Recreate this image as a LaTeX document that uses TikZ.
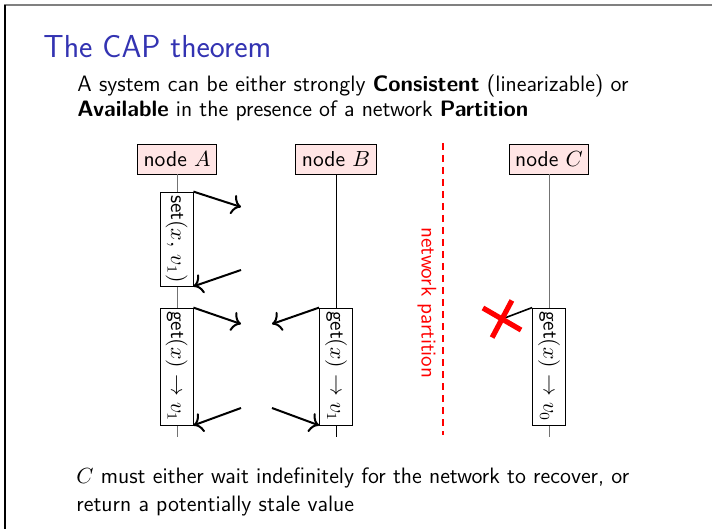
\documentclass[tikz,border=0pt]{standalone}
\usepackage{amsmath,amssymb}
\usetikzlibrary{calc,arrows.meta}
\definecolor{slideblue}{rgb}{0.2,0.2,0.7}
\begin{document}
\begin{tikzpicture}[x=0.5pt,y=-0.5pt]
		\tikzset{>={To[length=4.5pt,width=10pt]},
			slidetext/.style={inner sep=0pt, anchor=base west, font=\sffamily\fontsize{11.15}{13}\selectfont},
			procbox/.style={draw, fill=red!10, inner sep=3pt, minimum height=15pt, font=\sffamily\fontsize{10.8}{13}\selectfont},
			opbox/.style={draw, fill=white, minimum width=16.5pt, inner sep=0pt},
			oplabel/.style={rotate=-90, inner sep=0pt, font=\sffamily\fontsize{10.6}{13}\selectfont},
			lifeline/.style={black!55, thin},
			msg/.style={line width=1pt, ->}}
		\useasboundingbox (0,0) rectangle (712,529);
		\draw[gray, line width=0.8pt] (4,5) -- (712,5);
		\draw[black, line width=0.6pt] (5,5) -- (5,529);
		
		\node[slidetext, font=\sffamily\fontsize{15.9}{19}\selectfont, text=slideblue] (title) at (43,58) {The CAP theorem};
		\node[slidetext] (introA) at (77,92) {A system can be either strongly \textbf{Consistent} (linearizable) or};
		\node[slidetext] (introB) at (77,117) {\textbf{Available} in the presence of a network \textbf{Partition}};
		
		\node[procbox] (nodeA) at (177,159) {node $A$};
		\node[procbox] (nodeB) at (336,159) {node $B$};
		\node[procbox] (nodeC) at (549,159) {node $C$};
		\coordinate (endA) at (177,437);
		\coordinate (endB) at (336,437);
		\coordinate (endC) at (549,437);
		\draw[lifeline] (nodeA) -- (endA);
		\draw[lifeline, black] (nodeB) -- (endB);
		\draw[lifeline] (nodeC) -- (endC);
		
		\node[opbox, minimum height=47pt] (setA) at (176.5,239) {};
		\node[oplabel] (setAtext) at (setA) {set$(x,\,v_1)$};
		\node[opbox, minimum height=58.5pt] (getA) at (176.5,366.5) {};
		\node[oplabel] (getAtext) at (getA) {get$(x) \rightarrow v_1$};
		\node[opbox, minimum height=58.5pt] (getB) at (336,366.5) {};
		\node[oplabel] (getBtext) at (getB) {get$(x) \rightarrow v_1$};
		\node[opbox, minimum height=58.5pt] (getC) at (549,366.5) {};
		\node[oplabel] (getCtext) at (getC) {get$(x) \rightarrow v_0$};
		
		\coordinate (setReq) at (241,207);
		\coordinate (setResp) at (241,270);
		\coordinate (getAReq) at (241,324);
		\coordinate (getAResp) at (241,408);
		\coordinate (getBReq) at (272,324);
		\coordinate (getBResp) at (272,408);
		\coordinate (lost) at (502,319);
		\draw[msg] (setA.north east) -- (setReq);
		\draw[msg] (setResp) -- (setA.south east);
		\draw[msg] (getA.north east) -- (getAReq);
		\draw[msg] (getAResp) -- (getA.south east);
		\draw[msg] (getB.north west) -- (getBReq);
		\draw[msg] (getBResp) -- (getB.south west);
		\draw[thick] (getC.north west) -- (lost);
		\draw[red, line width=2.6pt] ($(lost)+(30:22)$) -- ($(lost)+(210:22)$);
		\draw[red, line width=2.6pt] ($(lost)+(118:21)$) -- ($(lost)+(298:21)$);
		
		\coordinate (cutTop) at (443,143);
		\coordinate (cutBot) at (443,435);
		\draw[red, thick, dash pattern=on 3.5pt off 2.5pt] (cutTop) -- (cutBot);
		\node[oplabel, text=red] (cutLabel) at (427,303) {network partition};
		
		\node[slidetext] (outroA) at (76,483) {$C$ must either wait indefinitely for the network to recover, or};
		\node[slidetext] (outroB) at (76,511) {return a potentially stale value};
	\end{tikzpicture}
\end{document}
